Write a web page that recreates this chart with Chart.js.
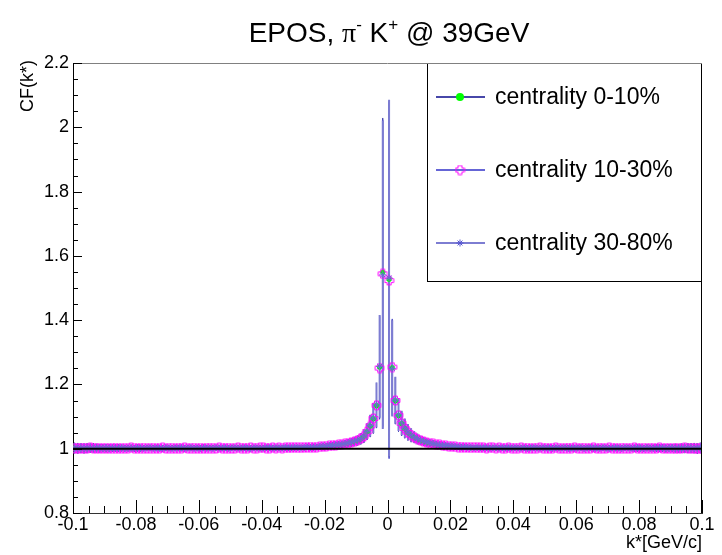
<!DOCTYPE html>
<html>
<head>
<meta charset="utf-8">
<script src="https://cdn.jsdelivr.net/npm/chart.js@4.4.1/dist/chart.umd.min.js"></script>
<style>
  html, body { margin: 0; padding: 0; background: #fff; }
  #cf { display: block; }
</style>
</head>
<body>
<canvas id="cf" width="722" height="555"></canvas>
<script>
// binning of the k* histogram (200 bins over -0.1 .. 0.1)
const binLo = -0.1
const binWidth = 0.001

// CF(k*) per bin, one row = 20 bins
const cf0_10 = [
  1.003,1.001,1.002,1.000,1.002,1.001,1.003,1.002,1.001,1.002,1.000,1.002,1.001,1.002,1.003,1.001,1.002,1.001,1.002,1.001,
  1.002,1.001,1.002,1.002,1.001,1.003,1.002,1.001,1.002,1.002,1.001,1.002,1.003,1.002,1.001,1.002,1.002,1.001,1.002,1.002,
  1.002,1.002,1.001,1.002,1.003,1.002,1.002,1.001,1.002,1.002,1.003,1.002,1.002,1.001,1.002,1.003,1.002,1.002,1.003,1.002,
  1.002,1.003,1.002,1.002,1.003,1.002,1.003,1.003,1.002,1.003,1.003,1.003,1.004,1.003,1.004,1.004,1.004,1.005,1.006,1.007,
  1.008,1.009,1.010,1.011,1.012,1.013,1.015,1.017,1.019,1.022,1.025,1.030,1.038,1.052,1.070,1.093,1.134,1.254,1.549,null,
  1.527,1.252,1.149,1.103,1.078,1.062,1.050,1.041,1.035,1.030,1.025,1.022,1.019,1.017,1.015,1.013,1.011,1.010,1.009,1.008,
  1.007,1.006,1.005,1.004,1.004,1.004,1.003,1.003,1.003,1.003,1.002,1.003,1.002,1.003,1.002,1.002,1.003,1.002,1.002,1.002,
  1.002,1.003,1.002,1.002,1.001,1.002,1.002,1.003,1.002,1.002,1.001,1.002,1.002,1.002,1.001,1.002,1.002,1.003,1.002,1.001,
  1.002,1.002,1.001,1.002,1.002,1.001,1.002,1.003,1.002,1.001,1.002,1.002,1.001,1.002,1.001,1.002,1.003,1.001,1.002,1.001,
  1.002,1.001,1.002,1.001,1.003,1.002,1.001,1.002,1.000,1.002,1.001,1.003,1.001,1.002,1.000,1.002,1.001,1.003,1.001,1.002,
]
const cf10_30 = [
  1.001,1.002,1.001,1.002,1.001,1.003,1.002,1.001,1.002,1.001,1.002,1.001,1.002,1.002,1.001,1.002,1.001,1.002,1.003,1.002,
  1.001,1.002,1.002,1.001,1.002,1.002,1.001,1.002,1.003,1.001,1.002,1.002,1.001,1.002,1.002,1.003,1.001,1.002,1.002,1.001,
  1.002,1.001,1.002,1.002,1.002,1.001,1.003,1.002,1.002,1.002,1.001,1.002,1.003,1.002,1.002,1.002,1.003,1.002,1.002,1.003,
  1.003,1.002,1.002,1.003,1.002,1.003,1.002,1.003,1.003,1.003,1.004,1.003,1.003,1.004,1.004,1.005,1.004,1.005,1.006,1.007,
  1.008,1.009,1.010,1.011,1.012,1.014,1.015,1.017,1.020,1.022,1.026,1.031,1.039,1.053,1.071,1.094,1.135,1.251,1.544,null,
  1.523,1.254,1.150,1.104,1.079,1.063,1.051,1.042,1.036,1.030,1.026,1.022,1.019,1.017,1.015,1.013,1.012,1.010,1.009,1.008,
  1.007,1.006,1.005,1.005,1.004,1.004,1.003,1.004,1.003,1.003,1.003,1.002,1.003,1.003,1.002,1.003,1.002,1.002,1.003,1.002,
  1.002,1.002,1.003,1.002,1.002,1.001,1.002,1.002,1.003,1.002,1.002,1.001,1.002,1.003,1.002,1.001,1.002,1.002,1.002,1.003,
  1.001,1.002,1.002,1.001,1.002,1.003,1.001,1.002,1.002,1.001,1.003,1.002,1.002,1.001,1.002,1.002,1.001,1.002,1.003,1.002,
  1.001,1.002,1.001,1.002,1.002,1.001,1.003,1.001,1.002,1.001,1.002,1.000,1.002,1.001,1.003,1.001,1.002,1.001,1.000,1.002,
]
const cf30_80 = [
  1.002,1.000,1.003,1.001,1.002,1.002,1.001,1.003,1.002,1.001,1.003,1.001,1.002,1.001,1.002,1.003,1.001,1.002,1.002,1.001,
  1.003,1.002,1.001,1.002,1.003,1.001,1.002,1.002,1.001,1.003,1.002,1.001,1.002,1.002,1.003,1.001,1.002,1.003,1.001,1.002,
  1.001,1.003,1.002,1.002,1.001,1.003,1.002,1.002,1.003,1.001,1.002,1.003,1.002,1.002,1.003,1.002,1.001,1.003,1.002,1.002,
  1.002,1.003,1.003,1.002,1.003,1.003,1.002,1.004,1.003,1.003,1.004,1.004,1.003,1.004,1.005,1.004,1.005,1.005,1.007,1.008,
  1.008,1.010,1.010,1.012,1.013,1.014,1.016,1.018,1.020,1.023,1.026,1.031,1.040,1.054,1.072,1.095,1.136,1.256,1.541,null,
  1.531,1.250,1.151,1.105,1.080,1.064,1.052,1.043,1.036,1.031,1.026,1.023,1.020,1.018,1.016,1.014,1.012,1.011,1.010,1.009,
  1.008,1.007,1.006,1.005,1.005,1.004,1.004,1.003,1.004,1.003,1.003,1.003,1.002,1.003,1.003,1.002,1.003,1.002,1.003,1.002,
  1.003,1.002,1.002,1.003,1.001,1.002,1.003,1.002,1.002,1.003,1.002,1.002,1.001,1.003,1.002,1.002,1.003,1.001,1.002,1.002,
  1.002,1.003,1.001,1.002,1.003,1.002,1.002,1.001,1.003,1.002,1.001,1.002,1.003,1.002,1.001,1.003,1.002,1.002,1.001,1.003,
  1.002,1.001,1.003,1.002,1.001,1.002,1.002,1.003,1.001,1.002,1.003,1.001,1.002,1.002,1.001,1.003,1.002,1.001,1.002,1.003,
]
// statistical error per bin (same size for the three centralities)
const cfErr = [
  0.016,0.016,0.015,0.015,0.015,0.014,0.014,0.013,0.013,0.012,0.012,0.012,0.011,0.011,0.011,0.010,0.010,0.010,0.010,0.010,
  0.010,0.010,0.009,0.009,0.009,0.009,0.009,0.009,0.009,0.009,0.009,0.009,0.009,0.009,0.009,0.009,0.009,0.009,0.009,0.009,
  0.009,0.009,0.009,0.009,0.009,0.008,0.008,0.008,0.008,0.008,0.008,0.008,0.008,0.008,0.008,0.008,0.008,0.008,0.008,0.008,
  0.008,0.008,0.008,0.008,0.008,0.008,0.008,0.008,0.008,0.008,0.008,0.008,0.008,0.008,0.008,0.008,0.009,0.009,0.009,0.009,
  0.009,0.009,0.010,0.010,0.010,0.011,0.011,0.012,0.013,0.014,0.015,0.017,0.020,0.025,0.034,0.046,0.070,0.160,0.480,0,
  0.555,0.150,0.073,0.050,0.038,0.030,0.025,0.021,0.018,0.016,0.014,0.013,0.012,0.011,0.011,0.010,0.010,0.010,0.009,0.009,
  0.009,0.009,0.009,0.009,0.008,0.008,0.008,0.008,0.008,0.008,0.008,0.008,0.008,0.008,0.008,0.008,0.008,0.008,0.008,0.008,
  0.008,0.008,0.008,0.008,0.008,0.008,0.008,0.008,0.008,0.008,0.008,0.008,0.008,0.008,0.008,0.009,0.009,0.009,0.009,0.009,
  0.009,0.009,0.009,0.009,0.009,0.009,0.009,0.009,0.009,0.009,0.009,0.009,0.009,0.009,0.009,0.009,0.009,0.009,0.010,0.010,
  0.010,0.010,0.010,0.010,0.010,0.011,0.011,0.011,0.012,0.012,0.012,0.013,0.013,0.014,0.014,0.015,0.015,0.015,0.016,0.016,
]

const seriesNames = ["centrality 0-10%", "centrality 10-30%", "centrality 30-80%"]
const lineColors = ["#0a0a8c", "#3232c8", "#7d7dd2"]
const FONT = "'Liberation Sans', Arial, sans-serif"

function toPoints(vals) {
  const pts = []
  vals.forEach((v, i) => {
    if (v === null) return
    pts.push({ x: binLo + binWidth * (i + 0.5), y: v, e: cfErr[i] })
  })
  return pts
}

// ROOT style open cross marker
function openCross(color) {
  const c = document.createElement("canvas")
  c.width = 11
  c.height = 11
  const g = c.getContext("2d")
  const m = 5.5, a = 2, s = 4.4
  g.strokeStyle = color
  g.lineWidth = 1
  g.beginPath()
  const p = [[-a,-s],[a,-s],[a,-a],[s,-a],[s,a],[a,a],[a,s],[-a,s],[-a,a],[-s,a],[-s,-a],[-a,-a]]
  p.forEach(([dx, dy], i) => i ? g.lineTo(m + dx, m + dy) : g.moveTo(m + dx, m + dy))
  g.closePath()
  g.stroke()
  return c
}
const crossImg = openCross("#ff00ff")

// error bars of all series, drawn under the markers
const errorBars = {
  id: "errorBars",
  beforeDatasetsDraw(chart) {
    const { x, y } = chart.scales
    const a = chart.chartArea
    const ctx = chart.ctx
    ctx.save()
    ctx.beginPath()
    ctx.rect(a.left, a.top, a.right - a.left, a.bottom - a.top)
    ctx.clip()
    chart.data.datasets.forEach((ds, i) => {
      ctx.strokeStyle = lineColors[i]
      ctx.lineWidth = i === 2 ? 2 : 1
      ctx.beginPath()
      ds.data.forEach(p => {
        const px = x.getPixelForValue(p.x)
        ctx.moveTo(px, y.getPixelForValue(p.y - p.e))
        ctx.lineTo(px, y.getPixelForValue(p.y + p.e))
      })
      ctx.stroke()
    })
    ctx.restore()
  },
}

function drawMarker(ctx, i, cx, cy) {
  ctx.save()
  if (i === 0) {
    ctx.fillStyle = "#00ff00"
    ctx.beginPath()
    ctx.arc(cx, cy, 4, 0, Math.PI * 2)
    ctx.fill()
  } else if (i === 1) {
    ctx.drawImage(crossImg, cx - crossImg.width / 2, cy - crossImg.height / 2)
  } else {
    ctx.strokeStyle = "#5050d0"
    ctx.lineWidth = 1
    ctx.beginPath()
    const r = 3.5
    ctx.moveTo(cx, cy - r); ctx.lineTo(cx, cy + r)
    ctx.moveTo(cx - r, cy); ctx.lineTo(cx + r, cy)
    ctx.moveTo(cx - r * 0.7, cy - r * 0.7); ctx.lineTo(cx + r * 0.7, cy + r * 0.7)
    ctx.moveTo(cx + r * 0.7, cy - r * 0.7); ctx.lineTo(cx - r * 0.7, cy + r * 0.7)
    ctx.stroke()
  }
  ctx.restore()
}

// frame, inner ticks, reference line, titles and legend box
const decor = {
  id: "decor",
  afterDatasetsDraw(chart) {
    const { ctx } = chart
    const { x, y } = chart.scales
    ctx.save()
    // reference line at CF = 1
    ctx.strokeStyle = "#000"
    ctx.lineWidth = 2
    ctx.beginPath()
    ctx.moveTo(x.getPixelForValue(-0.1), y.getPixelForValue(1))
    ctx.lineTo(x.getPixelForValue(0.1), y.getPixelForValue(1))
    ctx.stroke()
    ctx.restore()
  },
  afterDraw(chart) {
    const { ctx, chartArea: a } = chart
    const { x, y } = chart.scales
    ctx.save()
    // top / right frame
    ctx.lineWidth = 1
    ctx.strokeStyle = "#808080"
    ctx.beginPath()
    ctx.moveTo(a.left, a.top + 0.5)
    ctx.lineTo(a.right, a.top + 0.5)
    ctx.stroke()
    ctx.strokeStyle = "#000"
    ctx.beginPath()
    ctx.moveTo(a.right - 0.5, a.top)
    ctx.lineTo(a.right - 0.5, a.bottom)
    ctx.stroke()
    // ticks
    ctx.strokeStyle = "#000"
    ctx.beginPath()
    for (let j = 0; j <= 40; j++) {
      const px = Math.round(x.getPixelForValue(-0.1 + j * 0.005)) + 0.5
      const len = j % 4 === 0 ? 13 : 7
      ctx.moveTo(px, a.bottom)
      ctx.lineTo(px, a.bottom - len)
    }
    for (let j = 0; j <= 28; j++) {
      const py = Math.round(y.getPixelForValue(0.8 + j * 0.05)) + 0.5
      const len = j % 4 === 0 ? 9 : 5
      ctx.moveTo(a.left, py)
      ctx.lineTo(a.left + len, py)
    }
    ctx.stroke()

    // title
    const parts = [
      ["EPOS, ", 28, 0, FONT],
      ["\u03c0", 28, 0, "'Liberation Serif', serif"],
      ["-", 17, -12, FONT],
      [" K", 28, 0, FONT],
      ["+", 17, -12, FONT],
      [" @ 39GeV", 28, 0, FONT],
    ]
    let total = 0
    parts.forEach(p => { ctx.font = p[1] + "px " + p[3]; total += ctx.measureText(p[0]).width })
    let tx = 389 - total / 2
    ctx.fillStyle = "#000"
    ctx.textBaseline = "alphabetic"
    ctx.textAlign = "left"
    parts.forEach(p => {
      ctx.font = p[1] + "px " + p[3]
      ctx.fillText(p[0], tx, 42 + p[2])
      tx += ctx.measureText(p[0]).width
    })

    // axis titles
    ctx.font = "18px " + FONT
    ctx.textAlign = "right"
    ctx.textBaseline = "middle"
    ctx.fillText("k*[GeV/c]", a.right, 543)
    ctx.save()
    ctx.translate(28, a.top - 3)
    ctx.rotate(-Math.PI / 2)
    ctx.fillText("CF(k*)", 0, 0)
    ctx.restore()

    // legend
    const bx = 427, by = a.top, bw = a.right - bx, bh = 218
    ctx.fillStyle = "#fff"
    ctx.fillRect(bx, by, bw, bh)
    ctx.strokeStyle = "#000"
    ctx.lineWidth = 1
    ctx.strokeRect(bx + 0.5, by + 0.5, bw - 1, bh)
    ctx.strokeStyle = "#808080"
    ctx.beginPath()
    ctx.moveTo(bx, by + 0.5)
    ctx.lineTo(bx + bw, by + 0.5)
    ctx.stroke()
    seriesNames.forEach((name, i) => {
      const ly = by + 34 + i * 73
      ctx.strokeStyle = lineColors[i]
      ctx.lineWidth = i === 2 ? 2 : 1.3
      ctx.beginPath()
      ctx.moveTo(bx + 9, ly)
      ctx.lineTo(bx + 58, ly)
      ctx.stroke()
      drawMarker(ctx, i, bx + 33, ly)
      ctx.fillStyle = "#000"
      ctx.font = "23px " + FONT
      ctx.textAlign = "left"
      ctx.textBaseline = "middle"
      ctx.fillText(name, bx + 68, ly + 1)
    })
    ctx.restore()
  },
}

// drawing order as in the original: 0-10% first, 30-80% on top
new Chart(document.getElementById("cf"), {
  type: "scatter",
  data: {
    datasets: [
      {
        label: seriesNames[0],
        data: toPoints(cf0_10),
        pointStyle: "circle",
        pointRadius: 2.6,
        backgroundColor: "#00ff00",
        borderColor: "#00ff00",
        borderWidth: 0,
        order: 3,
      },
      {
        label: seriesNames[1],
        data: toPoints(cf10_30),
        pointStyle: crossImg,
        order: 2,
      },
      {
        label: seriesNames[2],
        data: toPoints(cf30_80),
        pointStyle: "star",
        pointRadius: 3.5,
        borderColor: "#6a6ad4",
        borderWidth: 1,
        order: 1,
      },
    ],
  },
  options: {
    responsive: false,
    animation: false,
    layout: { padding: { top: 63, right: 20, left: 0, bottom: 0 } },
    plugins: {
      legend: { display: false },
      title: { display: false },
      tooltip: { enabled: false },
    },
    scales: {
      x: {
        type: "linear",
        min: -0.1,
        max: 0.1,
        afterFit: s => { s.height = 42 },
        grid: { display: false, drawTicks: false },
        border: { display: true, color: "#333", width: 1 },
        ticks: {
          stepSize: 0.02,
          padding: 1,
          autoSkip: false,
          maxRotation: 0,
          color: "#000",
          font: { family: FONT, size: 18 },
          callback: v => String(+v.toFixed(3)),
        },
      },
      y: {
        min: 0.8,
        max: 2.2,
        afterFit: s => { s.width = 73 },
        grid: { display: false, drawTicks: false },
        border: { display: true, color: "#000", width: 1 },
        ticks: {
          stepSize: 0.2,
          padding: 4,
          color: "#000",
          font: { family: FONT, size: 18 },
          callback: v => String(+v.toFixed(2)),
        },
      },
    },
  },
  plugins: [errorBars, decor],
})
</script>
</body>
</html>
